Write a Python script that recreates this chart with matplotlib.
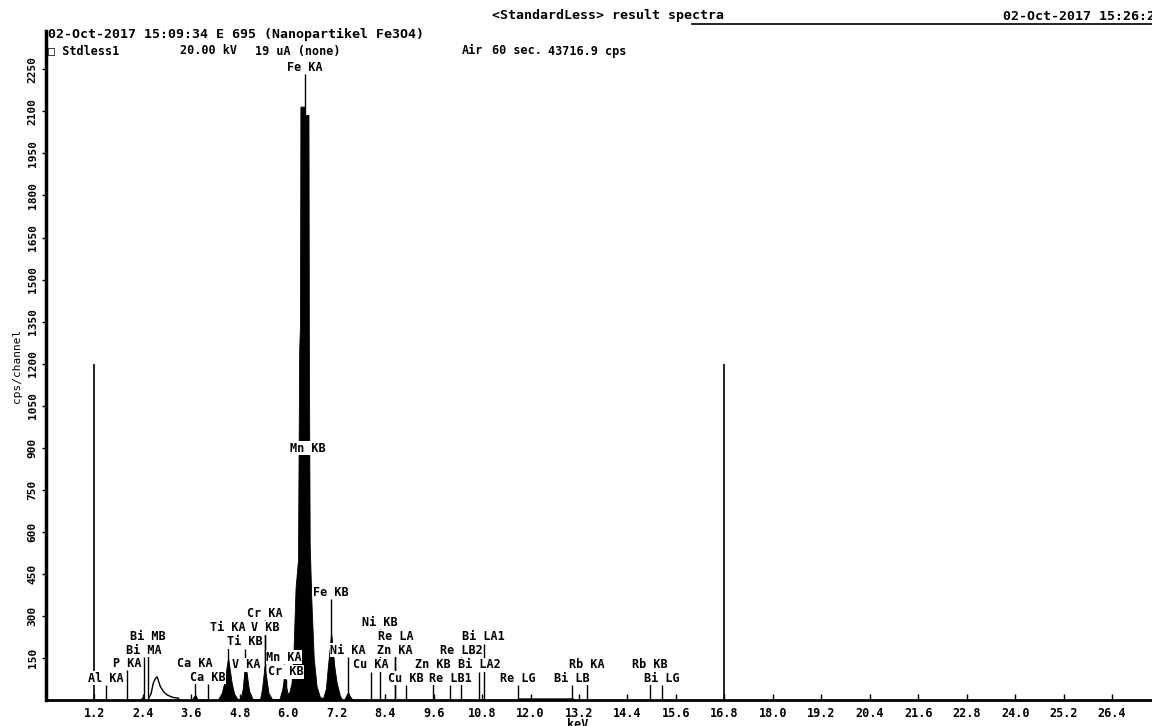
import matplotlib
matplotlib.use('Agg')
import matplotlib.pyplot as plt
import numpy as np

# spectrum outline (keV, cps/channel)
spec_kev = [0.0, 2.30, 2.36, 2.40, 2.44, 3.60, 3.66, 3.70, 3.76,
            4.25, 4.35, 4.42, 4.47, 4.51, 4.55, 4.60, 4.66, 4.74,
            4.82, 4.87, 4.93, 4.97, 5.03, 5.12,
            5.30, 5.35, 5.41, 5.45, 5.51, 5.60,
            5.78, 5.85, 5.90, 5.94, 5.98,
            6.02, 6.08, 6.13, 6.18, 6.24, 6.27, 6.29, 6.30, 6.40, 6.41, 6.50, 6.51,
            6.53, 6.57, 6.63, 6.70, 6.78,
            6.86, 6.93, 6.98, 7.03, 7.06, 7.09, 7.14, 7.20, 7.28, 7.34,
            7.38, 7.43, 7.48, 7.53, 7.60,
            11.68, 11.69, 13.05, 13.06, 27.4]
spec_cps = [0, 0, 6, 12, 0, 0, 12, 18, 0,
            0, 25, 65, 115, 150, 110, 60, 22, 4,
            4, 40, 130, 95, 32, 3,
            3, 40, 120, 85, 25, 3,
            3, 38, 85, 52, 25,
            25, 60, 180, 400, 500, 1250, 1340, 2117, 2117, 2087, 2087, 1240,
            560, 360, 150, 50, 12,
            6, 40, 120, 190, 240, 200, 120, 60, 15, 0,
            0, 15, 28, 12, 0,
            0, 6, 6, 0, 0]

# low Bi M hump, drawn as outline only
hump_kev = [2.545, 2.605, 2.654, 2.710, 2.752, 2.792, 2.834, 2.916, 3.000, 3.124, 3.287]
hump_cps = [6, 24, 59, 77, 83, 65, 47, 29, 18, 10, 6]

# element lines: energy, label, label height (cps)
line_kev = [1.487, 2.013, 2.423, 2.526, 3.691, 4.013, 4.511, 4.932, 4.952,
            5.427, 5.415, 5.947, 5.899, 6.490, 6.404, 7.058, 7.478, 8.265,
            8.048, 8.905, 8.639, 9.572, 8.652, 10.010, 10.275, 11.685,
            10.839, 10.731, 13.024, 13.395, 14.961, 15.248]
line_names = ['Al KA', 'P KA', 'Bi MA', 'Bi MB', 'Ca KA', 'Ca KB', 'Ti KA', 'Ti KB', 'V KA',
              'V KB', 'Cr KA', 'Cr KB', 'Mn KA', 'Mn KB', 'Fe KA', 'Fe KB', 'Ni KA', 'Ni KB',
              'Cu KA', 'Cu KB', 'Zn KA', 'Zn KB', 'Re LA', 'Re LB1', 'Re LB2', 'Re LG',
              'Bi LA1', 'Bi LA2', 'Bi LB', 'Rb KA', 'Rb KB', 'Bi LG']
label_cps = [78, 132, 178, 225, 132, 82, 257, 207, 125,
             257, 310, 100, 153, 899, 2258, 385, 178, 278,
             125, 78, 178, 125, 225, 78, 178, 78,
             225, 125, 78, 125, 125, 78]

# region markers
roi_kev = [1.2, 16.8]
roi_cps = [1200, 1200]

xticks = [1.2, 2.4, 3.6, 4.8, 6.0, 7.2, 8.4, 9.6, 10.8, 12.0, 13.2, 14.4, 15.6,
          16.8, 18.0, 19.2, 20.4, 21.6, 22.8, 24.0, 25.2, 26.4]
yticks = [150, 300, 450, 600, 750, 900, 1050, 1200, 1350, 1500, 1650, 1800, 1950, 2100, 2250]

mono = 'DejaVu Sans Mono'
plt.rcParams['font.family'] = mono
plt.rcParams['font.weight'] = 'bold'

W, H = 1152, 726
fig = plt.figure(figsize=(W / 100, H / 100), dpi=100)
ax = fig.add_axes([46 / W, 26 / H, (W - 46) / W, (700 - 31) / H])
ax.set_xlim(0, (W - 45.5) / 40.4)
ax.set_ylim(0, (700 - 31) / 0.2803)

ax.fill_between(spec_kev, spec_cps, 0, color='black', lw=0.6, edgecolor='black')
ax.plot(hump_kev, hump_cps, color='black', lw=1)

ax.vlines(roi_kev, 0, roi_cps, color='black', lw=1.2)

# px -> cps gap between line top and label
gap = 7 / 0.2803
ax.vlines(line_kev, 0, np.array(label_cps) - gap, color='black', lw=1)
for kev, name, hy in zip(line_kev, line_names, label_cps):
    ax.text(kev, hy, name, ha='center', va='center', fontsize=8.5,
            bbox=dict(fc='white', ec='none', pad=0.3))

for s in ['top', 'right']:
    ax.spines[s].set_visible(False)
ax.spines['left'].set_linewidth(2.5)
ax.spines['bottom'].set_linewidth(2)

ax.set_xticks(xticks)
ax.set_xticklabels([f'{t:.1f}' for t in xticks], fontsize=8.5)
ax.tick_params(axis='x', direction='in', length=4, width=1, pad=5)
ax.set_yticks(yticks)
ax.set_yticklabels([str(t) for t in yticks], fontsize=8, rotation=90, va='center')
ax.tick_params(axis='y', direction='out', length=3, width=1, pad=3)
ax.set_ylabel('cps/channel', fontsize=8, labelpad=4)

def ftext(x, y, s, size=9.5, **kw):
    fig.text(x / W, 1 - y / H, s, va='center', fontsize=size, **kw)

ftext(48, 34, '02-Oct-2017 15:09:34 E 695 (Nanopartikel Fe3O4)')
ftext(48, 51, '\u25a1 Stdless1', size=8.5)
ftext(180, 51, '20.00 kV', size=8.5)
ftext(255, 51, '19 uA (none)', size=8.5)
ftext(462, 51, 'Air', size=8.5)
ftext(492, 51, '60 sec.', size=8.5)
ftext(548, 51, '43716.9 cps', size=8.5)
ftext(492, 16, '<StandardLess> result spectra')
ftext(1003, 16, '02-Oct-2017 15:26:25')
fig.add_artist(plt.Line2D([692 / W, 1.0], [1 - 24 / H, 1 - 24 / H], color='black', lw=1.2))
ftext(578, 725, 'keV', size=8.5, ha='center')

fig.savefig('out.png', dpi=100, facecolor='white')
